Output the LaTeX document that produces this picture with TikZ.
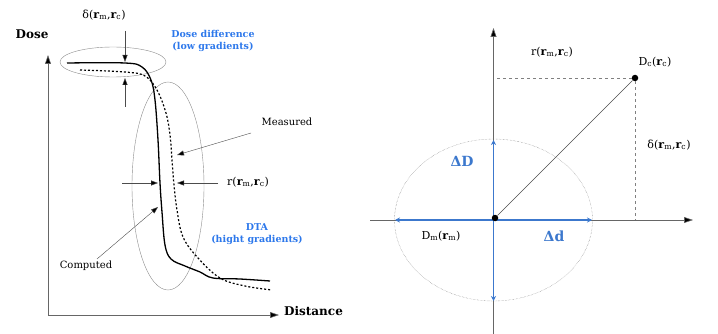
\documentclass[tikz,border=0pt]{standalone}
\usepackage{fontspec}
\setmainfont{DejaVu Serif}
\usepackage{tikz}
\usetikzlibrary{arrows.meta,positioning}
\definecolor{labelblue}{RGB}{45,120,235}
\definecolor{arrowblue}{RGB}{60,120,205}
\newcommand{\rsub}[1]{\textbf{r}\textsubscript{#1}}

\begin{document}
\begin{tikzpicture}[x=1pt,y=-1pt,
  axis/.style={draw=black!60, semithick, -{Triangle[length=9pt,width=6pt,fill=black]}},
  pointer/.style={draw=black!70, -{Triangle[length=7pt,width=5pt,fill=black]}},
  bluearrow/.style={draw=arrowblue, line width=1.1pt, {Stealth[length=5pt,width=5pt]}-{Stealth[length=5pt,width=5pt]}},
  axlbl/.style={font=\fontsize{12}{14}\selectfont\bfseries, inner sep=1pt},
  lbl/.style={font=\fontsize{10}{12}\selectfont, inner sep=1pt},
  mathlbl/.style={font=\fontsize{11}{13}\selectfont, inner sep=1pt},
  bluelbl/.style={font=\fontsize{9.5}{11.5}\selectfont\bfseries, text=labelblue, align=center, inner sep=1pt},
  deltalbl/.style={font=\fontsize{14}{16}\selectfont\bfseries, text=arrowblue},
  dot/.style={circle, fill=black, inner sep=0pt, minimum size=6.5pt}]
\useasboundingbox (0,0) rectangle (718,334);

% ---------------- Left: dose profiles ----------------
% Axes
\coordinate (origin) at (48,315);
\coordinate (doseTop) at (48,55);
\coordinate (distEnd) at (279,315);
\draw[axis] (origin) -- (doseTop);
\draw[axis] (origin) -- (distEnd);
\node[axlbl, anchor=west] (distance) at (283,311) {Distance};
\node[axlbl] (dose) at (32,34) {Dose};

% Regions (ellipses)
\draw[black!45] (113,62) ellipse [x radius=53pt, y radius=15pt];
\draw[black!45] (168,186) ellipse [x radius=36pt, y radius=104pt];

% Computed (solid) and measured (dotted) profiles
\draw[line width=1.3pt] plot[smooth, tension=0.6] coordinates {(67,63) (125,63) (142,67) (151,80) (155,100) (158,140) (160,183) (162,212) (165,245) (171,259) (185,266) (200,272) (213,278) (240,279) (270,281)};
\draw[line width=1.2pt, dash pattern=on 2pt off 2pt] plot[smooth, tension=0.6] coordinates {(80,70) (125,72) (145,76) (157,90) (166,113) (170,135) (172,160) (174,185) (177,210) (183,237) (198,258) (220,278) (245,286) (272,290)};

% Dose difference
\node[mathlbl] (deltaL) at (104,15) {δ(\rsub{m},\rsub{c})};
\coordinate (deltaStartA) at (125,31);
\coordinate (deltaTipA) at (125,62);
\coordinate (deltaStartB) at (125,107);
\coordinate (deltaTipB) at (125,78);
\draw[pointer] (deltaStartA) -- (deltaTipA);
\draw[pointer] (deltaStartB) -- (deltaTipB);
\node[bluelbl] (dosediff) at (213,41) {Dose difference\\(low gradients)};

% Measured
\node[lbl] (measured) at (287,122) {Measured};
\coordinate (measStart) at (251,133);
\coordinate (measTip) at (177,155);
\draw[pointer] (measStart) -- (measTip);

% Distance to agreement
\coordinate (rStartA) at (122,183);
\coordinate (rTipA) at (158,183);
\coordinate (rStartB) at (218,183);
\coordinate (rTipB) at (177,183);
\draw[pointer] (rStartA) -- (rTipA);
\draw[pointer] (rStartB) -- (rTipB);
\node[mathlbl, anchor=west] (rL) at (226,182) {r(\rsub{m},\rsub{c})};
\node[bluelbl] (dta) at (257,234) {DTA\\(hight gradients)};

% Computed
\node[lbl] (computed) at (86,266) {Computed};
\coordinate (compStart) at (97,259);
\coordinate (compTip) at (158,207);
\draw[pointer] (compStart) -- (compTip);

% ---------------- Right: gamma ellipse ----------------
\coordinate (O) at (493.5,220);
\coordinate (vBot) at (493.5,334);
\coordinate (vTop) at (493.5,28);
\coordinate (hLeft) at (370,220);
\coordinate (hRight) at (693,220);
\draw[axis] (vBot) -- (vTop);
\draw[axis] (hLeft) -- (hRight);

% Acceptance ellipse
\draw[black!55, densely dotted] (O) ellipse [x radius=99pt, y radius=81pt];
\coordinate (ddTop) at (493.5,140);
\coordinate (ddBot) at (493.5,301);
\coordinate (dlLeft) at (395,220);
\coordinate (dlRight) at (592,220);
\draw[bluearrow] (ddBot) -- (ddTop);
\draw[bluearrow] (dlLeft) -- (dlRight);
\node[deltalbl] (dD) at (462,161) {ΔD};
\node[deltalbl] (dd) at (554,236) {Δd};

% Points
\node[dot] (Dm) at (495,218) {};
\node[dot] (Dc) at (635,78) {};
\draw[black!70] (Dm) -- (Dc);
\coordinate (rEnd) at (497,78);
\coordinate (deltaEnd) at (635,220);
\draw[black!50, dashed] (Dc) -- (rEnd);
\draw[black!50, dashed] (Dc) -- (deltaEnd);
\node[mathlbl] (DmL) at (441,236) {D\textsubscript{m}(\rsub{m})};
\node[mathlbl] (DcL) at (655,62) {D\textsubscript{c}(\rsub{c})};
\node[mathlbl] (rR) at (552,52) {r(\rsub{m},\rsub{c})};
\node[mathlbl] (deltaR) at (669,145) {δ(\rsub{m},\rsub{c})};
\end{tikzpicture}
\end{document}
